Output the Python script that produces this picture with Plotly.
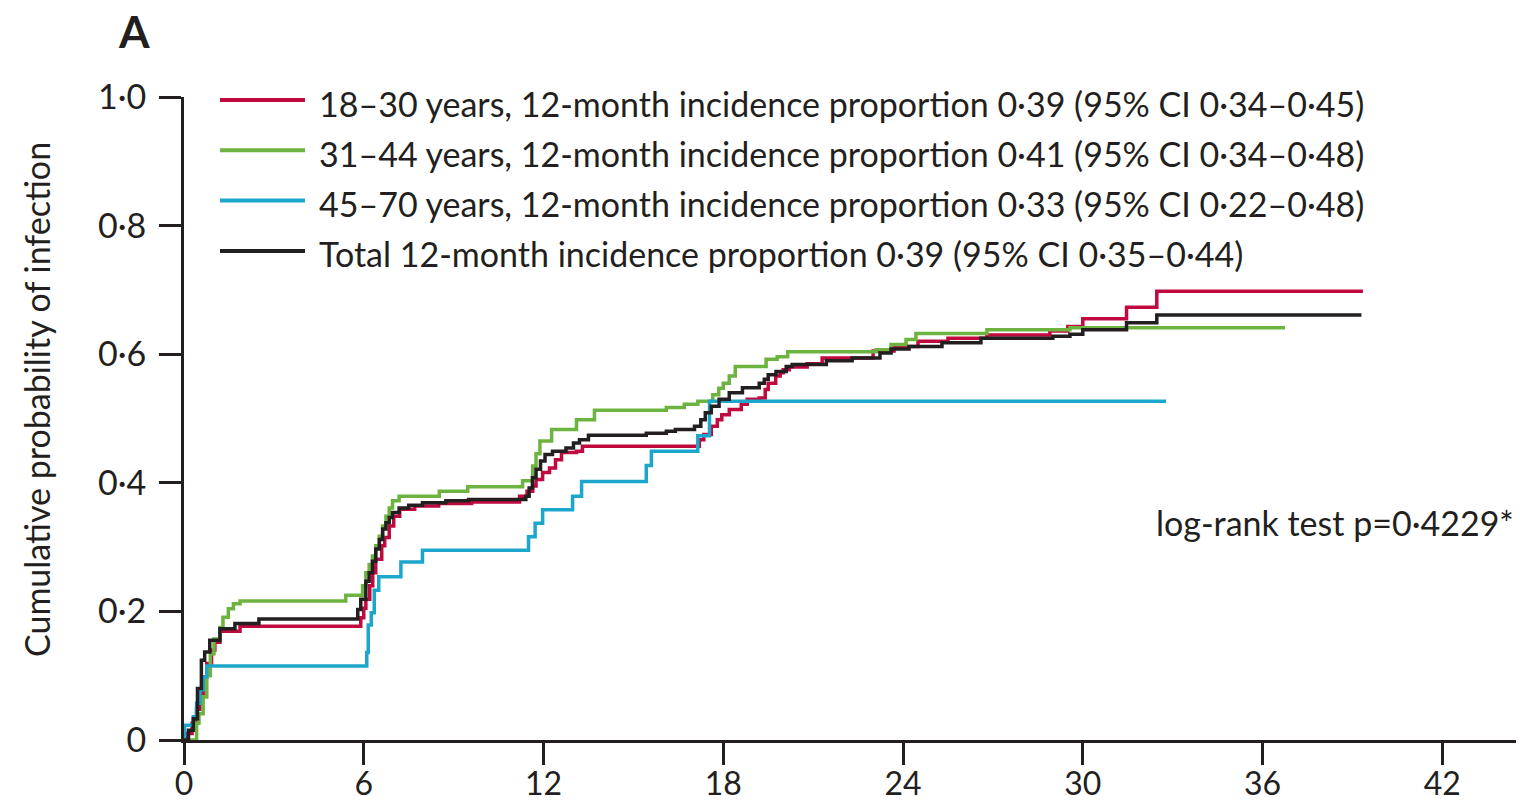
import plotly.graph_objects as go

# ---------------- data (months, cumulative probability) ----------------
t_18_30 = [0, 0.1, 0.27, 0.42, 0.53, 0.64, 0.76, 0.92, 1.03, 1.2, 1.87, 5.9, 6.0, 6.07, 6.2, 6.3,
           6.4, 6.6, 6.7, 6.85, 7.0, 7.2, 7.7, 8.5, 9.6, 11.2, 11.45, 11.64, 11.75, 11.97, 12.2,
           12.4, 12.6, 13.1, 13.3, 17.2, 17.35, 17.6, 17.8, 17.95, 18.2, 18.6, 18.8, 19.2, 19.4,
           19.5, 19.75, 19.9, 20.0, 20.2, 20.8, 21.3, 23.0, 23.7, 24.5, 25.5, 26.8, 28.9, 29.5,
           30.0, 31.46, 32.47, 39.35]
p_18_30 = [0, 0.01, 0.026, 0.048, 0.072, 0.098, 0.119, 0.14, 0.152, 0.169, 0.177, 0.19, 0.205,
           0.219, 0.24, 0.26, 0.281, 0.302, 0.315, 0.333, 0.348, 0.359, 0.364, 0.368, 0.37, 0.379,
           0.387, 0.395, 0.405, 0.416, 0.423, 0.436, 0.447, 0.449, 0.457, 0.467, 0.475, 0.488,
           0.498, 0.506, 0.514, 0.522, 0.53, 0.532, 0.545, 0.555, 0.566, 0.571, 0.576, 0.58, 0.585,
           0.594, 0.605, 0.612, 0.62, 0.625, 0.63, 0.636, 0.643, 0.655, 0.673, 0.698, 0.698]

t_31_44 = [0, 0.42, 0.5, 0.64, 0.76, 0.88, 1.0, 1.2, 1.3, 1.48, 1.65, 1.87, 5.4, 5.96, 6.07, 6.18,
           6.29, 6.4, 6.52, 6.63, 6.74, 6.85, 6.96, 7.18, 8.52, 9.47, 11.3, 11.64, 11.75, 11.88,
           12.27, 13.1, 13.7, 16.1, 16.7, 17.15, 17.65, 17.85, 18.0, 18.2, 18.4, 19.43, 19.8,
           20.15, 23.1, 23.6, 24.1, 24.43, 26.8, 29.57, 36.75]
p_31_44 = [0, 0.026, 0.041, 0.067, 0.1, 0.134, 0.157, 0.175, 0.191, 0.204, 0.212, 0.216, 0.225,
           0.24, 0.26, 0.273, 0.286, 0.302, 0.317, 0.333, 0.348, 0.361, 0.372, 0.379, 0.387, 0.394,
           0.403, 0.426, 0.445, 0.465, 0.483, 0.498, 0.513, 0.517, 0.522, 0.527, 0.537, 0.547,
           0.555, 0.566, 0.581, 0.592, 0.596, 0.604, 0.607, 0.615, 0.623, 0.632, 0.638, 0.641, 0.641]

t_45_70 = [0, 0.02, 0.31, 0.42, 0.53, 0.64, 0.76, 6.1, 6.15, 6.25, 6.35, 6.5, 7.24, 7.96, 11.5,
           11.72, 11.97, 12.97, 13.27, 15.43, 15.6, 17.15, 17.54, 32.78]
p_45_70 = [0, 0.023, 0.036, 0.057, 0.078, 0.098, 0.115, 0.136, 0.179, 0.198, 0.233, 0.254, 0.277,
           0.295, 0.316, 0.337, 0.358, 0.379, 0.402, 0.427, 0.449, 0.473, 0.527, 0.527]

t_total = [0, 0.15, 0.31, 0.45, 0.58, 0.69, 0.86, 1.2, 1.7, 2.5, 5.8, 5.9, 6.07, 6.18, 6.29, 6.4,
           6.52, 6.63, 6.74, 6.85, 6.96, 7.18, 7.5, 7.96, 8.74, 9.5, 11.41, 11.52, 11.63, 11.75,
           11.9, 12.05, 12.3, 12.75, 13.0, 13.2, 13.5, 15.43, 16.1, 16.4, 17.04, 17.25, 17.4, 17.6,
           17.86, 18.2, 18.64, 19.2, 19.37, 19.5, 19.76, 20.1, 20.3, 21.44, 22.3, 23.23, 23.6,
           24.2, 25.3, 26.6, 29.0, 29.57, 30.0, 31.46, 32.47, 39.3]
p_total = [0, 0.015, 0.033, 0.08, 0.124, 0.137, 0.155, 0.173, 0.181, 0.188, 0.203, 0.219, 0.247,
           0.26, 0.278, 0.297, 0.312, 0.328, 0.338, 0.346, 0.354, 0.361, 0.365, 0.369, 0.372,
           0.374, 0.379, 0.392, 0.408, 0.421, 0.434, 0.444, 0.449, 0.454, 0.462, 0.467, 0.474,
           0.477, 0.48, 0.483, 0.488, 0.498, 0.509, 0.519, 0.53, 0.54, 0.548, 0.555, 0.561, 0.568,
           0.573, 0.581, 0.584, 0.59, 0.594, 0.602, 0.608, 0.612, 0.618, 0.625, 0.628, 0.631,
           0.638, 0.649, 0.661, 0.661]

series_labels = [
    "18–30 years, 12-month incidence proportion 0·39 (95% CI 0·34–0·45)",
    "31–44 years, 12-month incidence proportion 0·41 (95% CI 0·34–0·48)",
    "45–70 years, 12-month incidence proportion 0·33 (95% CI 0·22–0·48)",
    "Total 12-month incidence proportion 0·39 (95% CI 0·35–0·44)",
]
series_colors = ["#C0093F", "#6DB33F", "#1CA6CC", "#231F20"]
series_t = [t_18_30, t_31_44, t_45_70, t_total]
series_p = [p_18_30, p_31_44, p_45_70, p_total]

x_ticks = [0, 6, 12, 18, 24, 30, 36, 42]
y_ticks = [0, 0.2, 0.4, 0.6, 0.8, 1.0]
y_ticktext = ["0", "0·2", "0·4", "0·6", "0·8", "1·0"]

# ---------------- figure ----------------
FONT = "Lato"
TXT = "#231F20"
FS = 34
W, H = 1520, 803
ML, MR, MT, MB = 184, 4, 97, 63
plot_w = W - ML - MR
plot_h = H - MT - MB

fig = go.Figure()
for t, p, c, lab in zip(series_t, series_p, series_colors, series_labels):
    fig.add_trace(go.Scatter(x=t, y=p, mode="lines", line=dict(color=c, width=3.5, shape="hv"),
                             name=lab, showlegend=False))

def px_x(px):
    return (px - ML) / plot_w

def px_y(py):
    return (H - MB - py) / plot_h

shapes = []
annotations = []
for i, (lab, c) in enumerate(zip(series_labels, series_colors)):
    yy = 100 + 50.3 * i
    shapes.append(dict(type="line", xref="paper", yref="paper", x0=px_x(220), x1=px_x(305),
                       y0=px_y(yy), y1=px_y(yy), line=dict(color=c, width=4)))
    annotations.append(dict(xref="paper", yref="paper", x=px_x(317), y=px_y(yy + 3),
                            xanchor="left", yanchor="middle", text=lab, showarrow=False,
                            font=dict(family=FONT, size=FS, color=TXT)))

annotations.append(dict(xref="paper", yref="paper", x=px_x(134), y=px_y(31), text="<b>A</b>",
                        showarrow=False, xanchor="center", yanchor="middle",
                        font=dict(family=FONT, size=44, color=TXT)))
annotations.append(dict(xref="paper", yref="paper", x=px_x(36), y=px_y(400),
                        text="Cumulative probability of infection", textangle=-90,
                        showarrow=False, xanchor="center", yanchor="middle",
                        font=dict(family=FONT, size=FS, color=TXT)))
annotations.append(dict(xref="paper", yref="paper", x=px_x(1516), y=px_y(522),
                        text="log-rank test p=0·4229*", showarrow=False,
                        xanchor="right", yanchor="middle",
                        font=dict(family=FONT, size=FS, color=TXT)))

fig.update_layout(
    width=W, height=H,
    margin=dict(l=ML, r=MR, t=MT, b=MB, pad=0),
    paper_bgcolor="white", plot_bgcolor="white",
    shapes=shapes, annotations=annotations,
    xaxis=dict(range=[0, plot_w / 29.96], tickvals=x_ticks, ticktext=[str(v) for v in x_ticks],
               showgrid=False, zeroline=False, showline=True, linecolor=TXT, linewidth=3,
               ticks="outside", ticklen=22, tickwidth=3, tickcolor=TXT,
               tickfont=dict(family=FONT, size=32, color=TXT), ticklabelstandoff=-8,
               layer="below traces", automargin=False),
    yaxis=dict(range=[0, 1.0], tickvals=y_ticks, ticktext=y_ticktext,
               showgrid=False, zeroline=False, showline=True, linecolor=TXT, linewidth=3,
               ticks="outside", ticklen=22, tickwidth=3, tickcolor=TXT,
               tickfont=dict(family=FONT, size=FS, color=TXT), ticklabelstandoff=6,
               layer="below traces", automargin=False),
)

fig.write_html("out.html", config={"displayModeBar": False},
               post_script="document.body.style.margin='0';document.body.style.overflow='hidden';")
